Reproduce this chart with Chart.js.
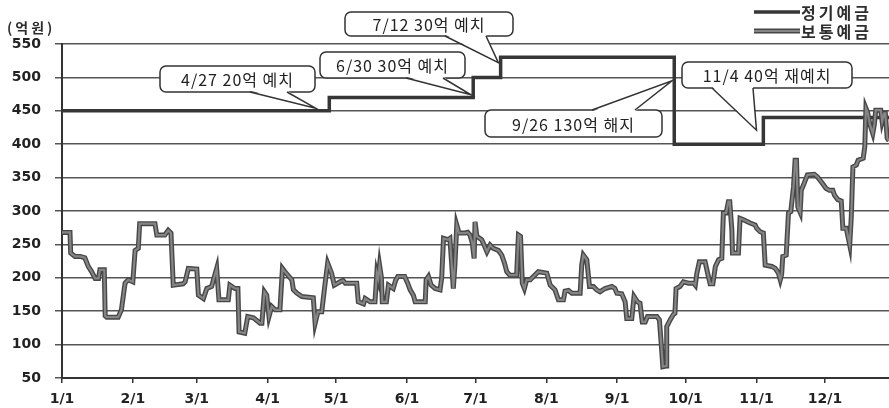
<!DOCTYPE html>
<html>
<head>
<meta charset="utf-8">
<script src="https://cdn.jsdelivr.net/npm/chart.js@4.4.1/dist/chart.umd.min.js"></script>
<style>
  html, body { margin: 0; padding: 0; background: #fff; }
  #wrap { width: 889px; height: 408px; position: relative; }
</style>
</head>
<body>
<div id="wrap"><canvas id="chart-deposits"></canvas></div>
<script>
// 정기예금 / 보통예금 잔액 추이 (day of year -> 억원)
const monthStarts = [0, 31, 59, 90, 120, 151, 181, 212, 243, 273, 304, 334];
const monthLabels = ['1/1', '2/1', '3/1', '4/1', '5/1', '6/1', '7/1', '8/1', '9/1', '10/1', '11/1', '12/1'];

const fixedLabel = '정기예금';
const fixedDays = [0, 117, 180, 192, 268, 307, 362];
const fixedValues = [450, 470, 500, 530, 400, 440, 440];

const savingsLabel = '보통예금';
const savingsDays = [
    0, 3.5, 3.8, 5.7, 8, 10, 11.5, 13, 14.5, 16, 16.6, 18.5, 18.9, 19.6, 24.6, 26, 27.6, 29, 31, 32,
    33.4, 34, 40.7, 41.5, 45, 46.5, 47.7, 48.7, 53, 53.9, 55.3, 59, 59.7, 61.9, 63.4, 65.5, 67.7, 68.7, 72.8, 73.5,
    75.7, 77, 77.5, 80, 81.3, 83.8, 86.7, 87.5, 88.6, 89.6, 90.6, 91.8, 93.3, 95.4, 96.5, 97.6, 100.6, 101.3, 102.8, 105,
    110, 110.8, 112, 113.7, 115, 116.3, 118, 119.2, 121.7, 123, 124, 129, 129.7, 132, 132.7, 134.9, 137, 137.8, 138.4, 139,
    139.8, 140.2, 142, 142.9, 145, 146, 147, 150, 151.3, 152.4, 153.8, 154.6, 159, 159.4, 160.4, 161.6, 163.3, 165.5, 166.2, 167,
    169, 169.8, 170.6, 171.3, 172, 172.8, 173.8, 176.4, 177.6, 178.6, 179.6, 180.4, 180.8, 181.6, 183.7, 184.4, 186, 187.4, 188.8, 191,
    192.5, 193.7, 194.7, 196, 199, 199.8, 200.7, 201.5, 202.4, 203.4, 205, 205.5, 208.5, 212.2, 213.7, 215.8, 217.3, 219.5, 220.2, 221.7,
    223.2, 226.8, 227.5, 228.2, 229.7, 230.9, 232.6, 234, 235.5, 237.7, 240.7, 242, 242.9, 245, 246.5, 247.2, 249.4, 250.4, 251.9, 253,
    254, 255.3, 256.3, 260.4, 261.5, 262.5, 263, 264.5, 264.7, 266.2, 267.6, 268.3, 268.8, 270.5, 272, 274.2, 276.5, 277.2, 277.9, 279,
    281.5, 282.6, 283.7, 284.9, 286, 287.4, 288.8, 289.5, 290.7, 291.7, 292.3, 293.2, 293.5, 296.1, 296.8, 298.3, 301.2, 303.4, 304.1, 305.6,
    307, 307.8, 310.7, 312.2, 313.6, 314.4, 315, 315.5, 317, 318, 319, 320.2, 320.9, 321.5, 322.1, 323.1, 323.4, 323.6, 324.8, 326.3,
    329.3, 330.7, 332.9, 334.4, 335.9, 337.4, 338.1, 339.6, 341.1, 341.8, 343.3, 344.8, 345.5, 346.2, 347.7, 348.5, 350.7, 351.4, 351.9, 352.6,
    353.6, 354.9, 355.6, 356.2, 358.4, 359, 359.9, 360.4, 361.2, 362,
];
const savingsValues = [
    268, 268, 237, 232, 232, 230, 217, 209, 199, 199, 212, 212, 143, 141, 141, 152, 192, 197, 194, 241,
    244, 281, 281, 264, 264, 271, 267, 189, 191, 194, 214, 213, 174, 169, 184, 187, 214, 167, 167, 189,
    184, 184, 119, 117, 142, 140, 132, 132, 179, 174, 142, 157, 152, 152, 214, 209, 197, 182, 177, 172,
    170, 132, 149, 149, 187, 222, 207, 189, 194, 196, 192, 192, 164, 161, 169, 164, 164, 207, 199, 219,
    201, 164, 164, 189, 184, 196, 202, 202, 192, 182, 174, 164, 164, 197, 202, 189, 184, 182, 200, 259,
    257, 259, 219, 184, 220, 279, 267, 267, 268, 264, 252, 229, 284, 262, 257, 252, 239, 249, 244, 241,
    234, 222, 209, 204, 204, 264, 262, 192, 184, 197, 197, 199, 209, 207, 189, 182, 167, 167, 180, 181,
    177, 177, 219, 234, 227, 187, 187, 182, 179, 184, 187, 184, 177, 176, 164, 139, 139, 172, 164, 162,
    134, 134, 142, 142, 137, 92, 67, 68, 127, 137, 145, 147, 184, 187, 194, 192, 192, 189, 207, 224,
    224, 207, 191, 191, 217, 227, 229, 297, 297, 314, 314, 272, 237, 237, 289, 287, 282, 279, 274, 269,
    267, 219, 217, 214, 207, 197, 205, 232, 234, 297, 299, 336, 376, 376, 306, 298, 298, 331, 341, 354,
    355, 351, 341, 334, 331, 331, 324, 317, 315, 274, 274, 249, 292, 366, 369, 376, 379, 396, 454, 448,
    430, 416, 430, 451, 451, 434, 446, 446, 409, 405,
];

const noteTexts = ['4/27 20억 예치', '6/30 30억 예치', '7/12 30억 예치', '9/26 130억 해지', '11/4 40억 재예치'];
const noteDays = [111, 179, 191, 267, 304];
const noteValues = [454, 474, 522, 495, 421];

const unitLabel = '(억원)';

// callout box layout (px): box edges, wedge base x's, side the wedge leaves from
const noteBoxes = [
    { l: 160, t: 66, r: 315, b: 92, base: [250, 287], side: 'bottom' },
    { l: 320, t: 52, r: 465, b: 78, base: [406, 443], side: 'bottom' },
    { l: 345, t: 12, r: 513, b: 36, base: [445, 486], side: 'bottom' },
    { l: 485, t: 110, r: 662, b: 137, base: [592, 635], side: 'top' },
    { l: 682, t: 62, r: 852, b: 88, base: [712, 753], side: 'bottom' },
];

const INK = '#2e2e2e';
const GRID = '#555';
const FIXED_COLOR = '#363636';
const SAV_EDGE = '#474747';
const SAV_FILL = '#858585';

const toPts = (xs, ys) => xs.map((x, i) => ({ x, y: ys[i] }));

const overlayPlugin = {
    id: 'depositOverlay',
    afterDraw(chart) {
        const { ctx: c, scales } = chart;
        c.save();

        // unit label
        c.fillStyle = INK;
        c.font = 'bold 14px "Noto Sans CJK KR", sans-serif';
        c.textAlign = 'left';
        c.textBaseline = 'middle';
        c.letterSpacing = '3px';
        c.fillText(unitLabel, 7, 28);
        c.letterSpacing = '0px';

        // legend
        const lx0 = 754, lx1 = 800;
        const rows = [
            { y: 12, label: fixedLabel, kind: 'fixed' },
            { y: 31, label: savingsLabel, kind: 'sav' },
        ];
        rows.forEach(row => {
            c.lineCap = 'butt';
            if (row.kind === 'fixed') {
                c.strokeStyle = FIXED_COLOR;
                c.lineWidth = 3.5;
                c.beginPath(); c.moveTo(lx0, row.y); c.lineTo(lx1, row.y); c.stroke();
            } else {
                c.strokeStyle = SAV_EDGE;
                c.lineWidth = 5;
                c.beginPath(); c.moveTo(lx0, row.y); c.lineTo(lx1, row.y); c.stroke();
                c.strokeStyle = SAV_FILL;
                c.lineWidth = 2.2;
                c.beginPath(); c.moveTo(lx0, row.y); c.lineTo(lx1, row.y); c.stroke();
            }
            c.fillStyle = INK;
            c.font = 'bold 16px "Noto Sans CJK KR", sans-serif';
            c.letterSpacing = '3px';
            c.fillText(row.label, 801, row.y + 1);
            c.letterSpacing = '0px';
        });

        // callouts
        noteTexts.forEach((text, i) => {
            const box = noteBoxes[i];
            const tx = scales.x.getPixelForValue(noteDays[i]);
            const ty = scales.y.getPixelForValue(noteValues[i]);
            const by = box.side === 'top' ? box.t : box.b;
            const inset = box.side === 'top' ? 1.5 : -1.5;

            c.beginPath();
            c.roundRect(box.l, box.t, box.r - box.l, box.b - box.t, 6);
            c.fillStyle = '#fff';
            c.fill();
            c.strokeStyle = '#333';
            c.lineWidth = 1.5;
            c.stroke();

            c.beginPath();
            c.moveTo(box.base[0], by + inset);
            c.lineTo(tx, ty);
            c.lineTo(box.base[1], by + inset);
            c.closePath();
            c.fill();
            c.beginPath();
            c.moveTo(box.base[0], by);
            c.lineTo(tx, ty);
            c.lineTo(box.base[1], by);
            c.stroke();

            c.fillStyle = '#222';
            c.font = '16px "Noto Sans CJK KR", sans-serif';
            c.textAlign = 'center';
            c.textBaseline = 'middle';
            c.letterSpacing = '1px';
            c.fillText(text, (box.l + box.r) / 2, (box.t + box.b) / 2 + 1);
            c.letterSpacing = '0px';
            c.textAlign = 'left';
        });

        c.restore();
    },
};

const ctx = document.getElementById('chart-deposits').getContext('2d');
new Chart(ctx, {
    type: 'line',
    data: {
        datasets: [
            {
                label: savingsLabel,
                data: toPts(savingsDays, savingsValues),
                borderColor: SAV_FILL,
                borderWidth: 2.2,
                pointRadius: 0,
                tension: 0,
                order: 0,
            },
            {
                label: savingsLabel + ' edge',
                data: toPts(savingsDays, savingsValues),
                borderColor: SAV_EDGE,
                borderWidth: 5,
                pointRadius: 0,
                tension: 0,
                order: 1,
            },
            {
                label: fixedLabel,
                data: toPts(fixedDays, fixedValues),
                borderColor: FIXED_COLOR,
                borderWidth: 3.5,
                pointRadius: 0,
                stepped: 'before',
                order: 2,
            },
        ],
    },
    plugins: [overlayPlugin],
    options: {
        responsive: true,
        maintainAspectRatio: false,
        animation: false,
        layout: { padding: { top: 44, right: 0, bottom: 0, left: 0 } },
        plugins: {
            legend: { display: false },
            tooltip: { enabled: false },
        },
        scales: {
            x: {
                type: 'linear',
                min: 0,
                max: 362,
                afterBuildTicks: scale => {
                    scale.ticks = monthStarts.map(v => ({ value: v }));
                },
                afterFit: scale => { scale.height = 30; },
                ticks: {
                    autoSkip: false,
                    maxRotation: 0,
                    padding: 8,
                    color: '#222',
                    font: { family: '"DejaVu Sans", sans-serif', size: 14, weight: 'bold' },
                    callback: v => monthLabels[monthStarts.indexOf(v)],
                },
                grid: { drawOnChartArea: false, drawTicks: true, tickLength: 5, color: '#333', lineWidth: 1.5 },
                border: { display: true, color: '#333', width: 2 },
            },
            y: {
                min: 50,
                max: 550,
                afterFit: scale => { scale.width = 62; },
                ticks: {
                    stepSize: 50,
                    padding: 14,
                    color: '#222',
                    font: { family: '"DejaVu Sans", sans-serif', size: 14, weight: 'bold' },
                },
                grid: { color: GRID, lineWidth: 1.5, tickLength: 7 },
                border: { display: true, color: '#333', width: 2 },
            },
        },
    },
});
</script>
</body>
</html>
